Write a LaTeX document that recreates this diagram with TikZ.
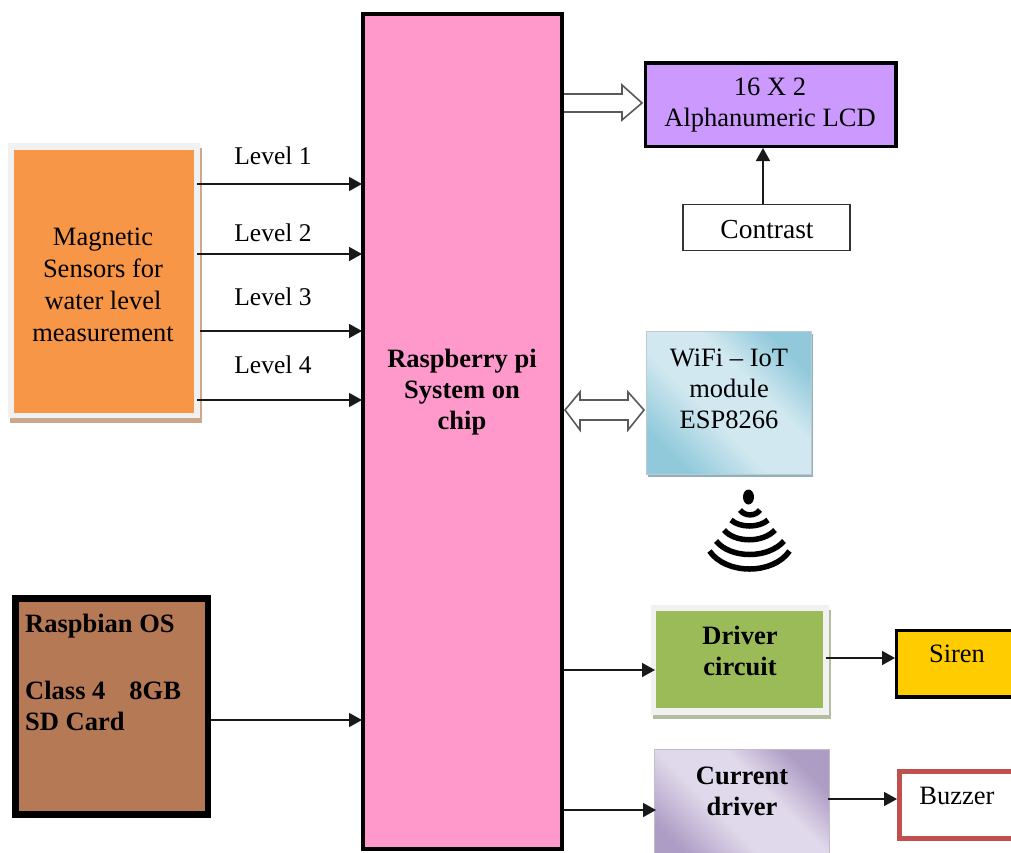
\documentclass[tikz,border=0pt]{standalone}
\usepackage{fontspec}
\setmainfont{Liberation Serif}
\usetikzlibrary{arrows.meta}
\definecolor{pinkc}{HTML}{FF99CC}
\definecolor{orangec}{HTML}{F79646}
\definecolor{purplec}{HTML}{CC99FF}
\definecolor{greenc}{HTML}{9BBB59}
\definecolor{sdc}{HTML}{B67956}
\definecolor{yellowc}{HTML}{FFCC00}
\definecolor{redc}{HTML}{C0504D}
\definecolor{frame}{HTML}{F1F1F1}
\definecolor{orangesh}{HTML}{CBA78C}
\definecolor{greensh}{HTML}{B4BDA0}
\definecolor{bluesh}{HTML}{8FB0BC}
\pgfdeclarehorizontalshading{wifigrad}{100bp}{rgb(0bp)=(.57,.79,.86); rgb(25bp)=(.57,.79,.86); rgb(43bp)=(.82,.91,.94); rgb(60bp)=(.82,.91,.94); rgb(75bp)=(.57,.79,.86); rgb(100bp)=(.57,.79,.86)}
\pgfdeclarehorizontalshading{curgrad}{100bp}{rgb(0bp)=(.68,.61,.77); rgb(25bp)=(.68,.61,.77); rgb(43bp)=(.88,.85,.92); rgb(60bp)=(.88,.85,.92); rgb(75bp)=(.68,.61,.77); rgb(100bp)=(.68,.61,.77)}
\tikzset{
 x=1pt,y=-1pt,
 txt/.style={font=\fontsize{26.5pt}{31pt}\selectfont,align=center,inner sep=0pt,text=black},
 btxt/.style={txt,font=\fontsize{26.5pt}{31pt}\selectfont\bfseries},
 lvl/.style={txt,font=\fontsize{25.5pt}{30pt}\selectfont},
 conn/.style={draw=black!90,line width=1.6pt,-{Triangle[length=13pt,width=14pt]}},
 hollow/.style={draw=black!65,line width=1.6pt,fill=white,line join=miter},
 wave/.style={line width=5.5pt,black},
}
\begin{document}
\begin{tikzpicture}
\useasboundingbox (0,0) rectangle (1011,852);
\clip (0,0) rectangle (1011,852);
\fill[white] (0,0) rectangle (1011,852);

% hollow arrows
\draw[hollow] (563,94) -- (622,94) -- (622,85) -- (642,103) -- (622,120) -- (622,112) -- (563,112);
\draw[hollow] (565,410) -- (580,392) -- (580,400) -- (628,400) -- (628,392) -- (644,410) -- (628,430) -- (628,420) -- (580,420) -- (580,430) -- cycle;

% main block
\draw[black,line width=3.5pt,fill=pinkc] (363,14) rectangle (562,849);
\node[btxt] (pi) at (462,392.5) {Raspberry pi\\System on\\chip};
\coordinate (piW) at (362,391);

% sensors
\fill[orangesh] (10,148) rectangle (202,423);
\fill[frame] (8,143) rectangle (200,418);
\fill[orangec] (14,150) rectangle (194,413);
\node[txt,font=\fontsize{26.5pt}{32pt}\selectfont] (sens) at (103,285) {Magnetic\\Sensors for\\water level\\measurement};
\coordinate (s1) at (197,184);
\coordinate (s2) at (197,254);
\coordinate (s3) at (200,331);
\coordinate (s4) at (197,400);
\draw[conn] (s1) -- (piW |- s1);
\draw[conn] (s2) -- (piW |- s2);
\draw[conn] (s3) -- (piW |- s3);
\draw[conn] (s4) -- (piW |- s4);
\node[lvl] (l1) at (273,156) {Level 1};
\node[lvl] (l2) at (273,233) {Level 2};
\node[lvl] (l3) at (273,297) {Level 3};
\node[lvl] (l4) at (273,365) {Level 4};

% SD card
\draw[black,line width=6.5pt,fill=sdc] (15.5,598.5) rectangle (208,814.5);
\node[btxt,anchor=west,align=left] (os1) at (25,626) {Raspbian OS};
\node[btxt,anchor=west,align=left] (os2) at (25,690) {Class 4\hspace{24pt}8GB};
\node[btxt,anchor=west,align=left] (os3) at (25,721) {SD Card};
\coordinate (sd) at (211,720);
\draw[conn] (sd) -- (piW |- sd);

% LCD
\draw[black,line width=3.5pt,fill=purplec] (645.5,63) rectangle (896,146.5);
\node[txt] (lcd) at (770,105.5) {16 X 2\\Alphanumeric LCD};
\draw[black!80,line width=1.2pt,fill=white] (683,204.5) rectangle (850,250.5);
\node[txt,font=\fontsize{27.5pt}{30pt}\selectfont] (contrast) at (767,230) {Contrast};
\coordinate (c1) at (763,204);
\coordinate (c2) at (763,148);
\draw[conn] (c1) -- (c2);

% WiFi
\fill[bluesh] (648,334) rectangle (813,477);
\path[shade,shading=wifigrad,shading angle=45,draw=cyan!30!black!30] (646,331) rectangle (811,474);
\node[txt] (wifi) at (729,389) {WiFi – IoT\\module\\ESP8266};

% wireless symbol
\fill[black] (748.5,497) ellipse (5.5pt and 7.5pt);
\draw[wave] (740,510) .. controls (745,516.5) and (755,516.5) .. (760,510);
\draw[wave] (731,520) .. controls (740,528) and (759,528) .. (768,520);
\draw[wave] (724,530) .. controls (735,543) and (763,543) .. (775,530);
\draw[wave] (716,541) .. controls (731,559) and (768,559) .. (784,541);
\draw[wave] (709.5,551) .. controls (726,575) and (773,575) .. (789.5,551);

% driver
\fill[greensh] (653,610) rectangle (831,719);
\fill[frame] (651,605) rectangle (829,715);
\fill[greenc] (656,611) rectangle (823,708);
\node[btxt] (drv) at (740,651) {Driver\\circuit};
\coordinate (d1) at (563,670);
\coordinate (d2) at (655,670);
\draw[conn] (d1) -- (d2);
\coordinate (d3) at (826,658);
\coordinate (d4) at (895,658);
\draw[conn] (d3) -- (d4);
\draw[black,line width=3.5pt,fill=yellowc] (896.5,630.5) rectangle (1030,697);
\node[txt] (siren) at (957,654) {Siren};

% current driver
\path[shade,shading=curgrad,shading angle=45,draw=purplec!40!black!35] (654,749) rectangle (829,866);
\node[btxt] (cur) at (742,791) {Current\\driver};
\coordinate (e1) at (563,810);
\coordinate (e2) at (656,810);
\draw[conn] (e1) -- (e2);
\coordinate (e3) at (828,799);
\coordinate (e4) at (897,799);
\draw[conn] (e3) -- (e4);
\draw[redc,line width=5pt,fill=white] (899.5,771.5) rectangle (1030,838);
\node[txt] (buzz) at (957,796) {Buzzer};
\end{tikzpicture}
\end{document}
